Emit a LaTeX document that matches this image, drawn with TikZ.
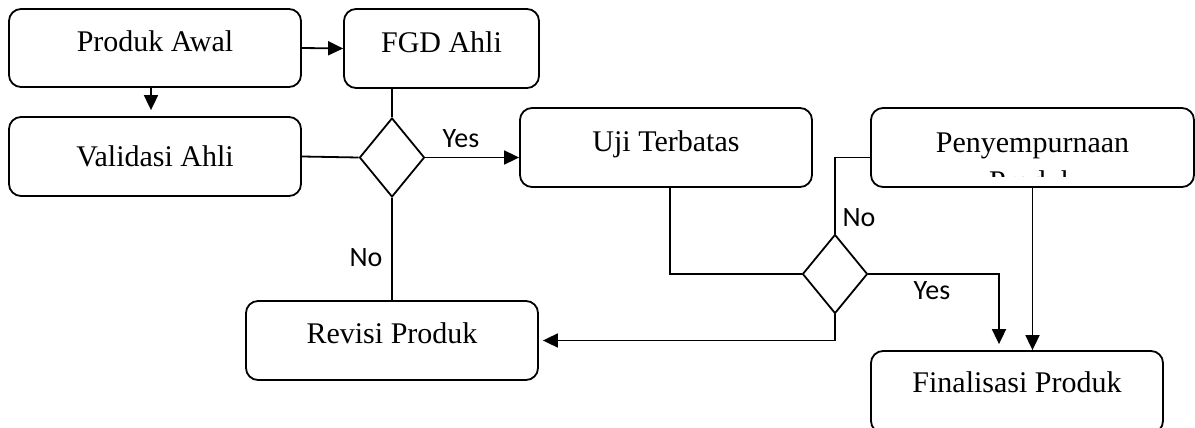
\documentclass[tikz,border=0pt]{standalone}
\usepackage{fontspec}
\setmainfont{Liberation Serif}
\newfontfamily\lblfont{Carlito}
\usetikzlibrary{shapes.geometric,arrows.meta}

\tikzset{
  box/.style={draw, line width=1.8pt, rounded corners=12pt, inner sep=0pt,
    text height=20pt, text depth=12pt, font=\fontsize{30}{36}\selectfont},
  decide/.style={draw, diamond, line width=1.8pt, inner sep=0pt,
    minimum width=65pt, minimum height=79pt},
  lbl/.style={font=\lblfont\fontsize{28}{34}\selectfont, inner sep=0pt},
  line/.style={line width=1.8pt},
  arr/.style={line width=1.8pt, -{Triangle[length=15pt,width=14pt]}},
}

\begin{document}
\begin{tikzpicture}[x=1pt,y=-1pt]
    \useasboundingbox (0,0) rectangle (1195,428);
    % left column
    \node[box, minimum width=292pt, minimum height=78pt] (awal) at (155,48) {Produk Awal};
    \node[box, minimum width=195pt, minimum height=79pt] (fgd) at (441.5,48.5) {FGD Ahli};
    \node[box, minimum width=292pt, minimum height=79pt, text depth=1pt] (valid) at (155,156.5) {Validasi Ahli};
    \node[decide] (dia1) at (392,157.5) {};
    \node[box, minimum width=292pt, minimum height=79pt, text depth=14pt] (revisi) at (392,340.5) {Revisi Produk};
    % right part
    \node[box, minimum width=292pt, minimum height=79pt] (uji) at (666,147.5) {Uji Terbatas};
    \node[decide] (dia2) at (835,274) {};
    \node[box, minimum width=323pt, minimum height=79pt, text depth=10pt] (peny) at (1032.5,147.5) {Penyempurnaan};
    \begin{scope}
      \clip (peny.north west) rectangle ([yshift=11pt]peny.south east);
      \node[font=\fontsize{30}{36}\selectfont, inner sep=0pt, anchor=base] (pprod) at (1032.5,191) {Produk};
    \end{scope}
    \node[box, minimum width=292pt, minimum height=82pt, text depth=19pt] (final) at (1017,392) {Finalisasi Produk};
    % labels
    \node[lbl] (yes1) at (461,139) {Yes};
    \node[lbl] (no1) at (366,258) {No};
    \node[lbl] (no2) at (859,218) {No};
    \node[lbl] (yes2) at (932,291) {Yes};
    % connectors
    \draw[arr] (awal.east) -- (fgd.west);
    \draw[arr, shorten >=6pt] ([xshift=-4pt]awal.south) -- ([xshift=-4pt]valid.north);
    \draw[line] (dia1.north |- fgd.south) -- (dia1.north);
    \draw[line] (valid.east) -- (dia1.west);
    \draw[arr] (dia1.east) -- (dia1.east -| uji.west);
    \draw[line] (dia1.south) -- (revisi.north);
    \draw[line] ([xshift=4pt]uji.south) |- (dia2.west);
    \draw[line] ([yshift=-10pt]peny.west) -| (dia2.north);
    \draw[arr, shorten >=6pt] (dia2.east) -| ([xshift=-18pt]final.north);
    \draw[arr] (peny.south) -- (peny.south |- final.north);
    \draw[arr, shorten >=4pt] (dia2.south) |- (revisi.east);
\end{tikzpicture}
\end{document}
